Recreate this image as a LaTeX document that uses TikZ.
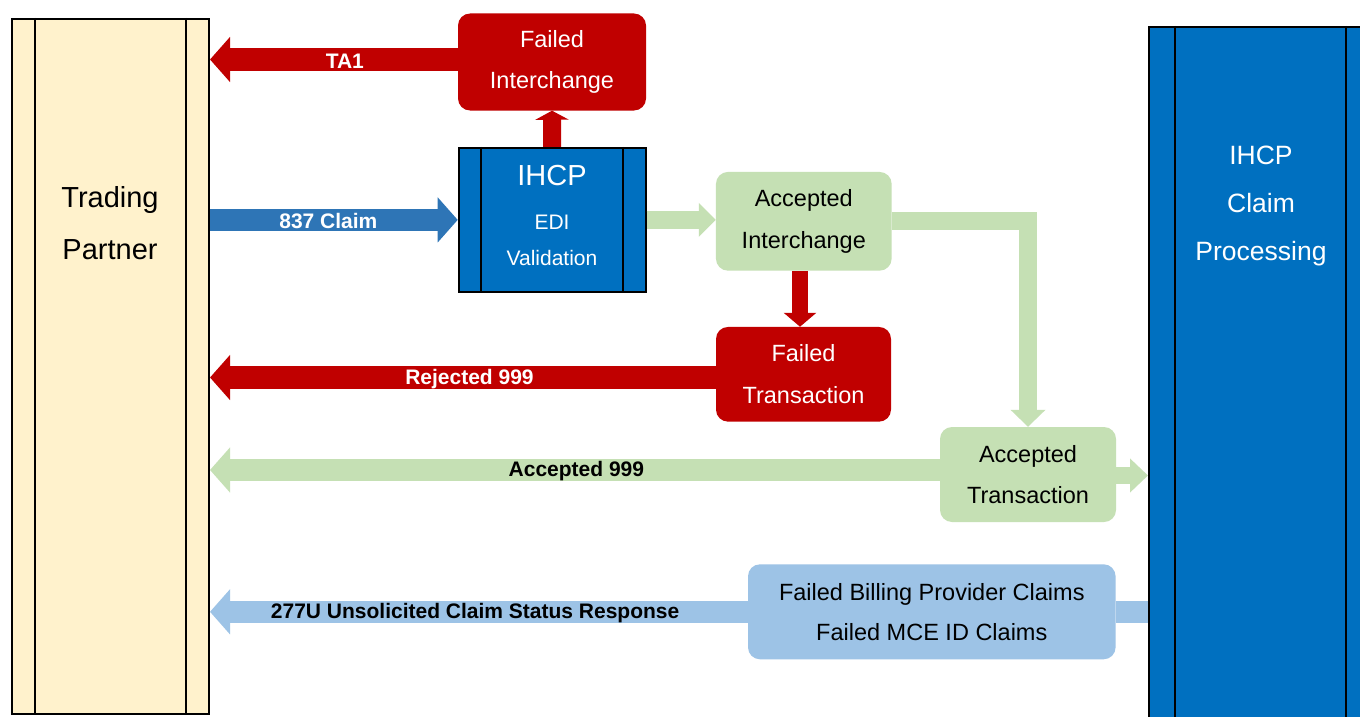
\documentclass[tikz,border=0pt]{standalone}
\usepackage{fontspec}
\setmainfont{Liberation Sans}
\usetikzlibrary{arrows.meta}
\definecolor{cred}{HTML}{C00000}
\definecolor{cgreen}{HTML}{C5E0B4}
\definecolor{cblue}{HTML}{0070C0}
\definecolor{carrow}{HTML}{2E75B6}
\definecolor{clight}{HTML}{9DC3E6}
\definecolor{tpfill}{HTML}{FFF2CC}
\tikzset{
  rbox/.style={rounded corners=12pt, align=center, inner sep=0pt,
    font=\fontsize{23.5}{41.5}\selectfont},
  redbox/.style={rbox, fill=cred, text=white},
  greenbox/.style={rbox, fill=cgreen, text=black},
  lightbox/.style={rbox, fill=clight, text=black, font=\fontsize{23.5}{40}\selectfont},
  column/.style={draw=black, line width=2pt, inner sep=0pt},
  divider/.style={draw=black, line width=1.6pt},
  fat/.style={line width=22.5pt, -{Triangle[length=20pt,width=44pt]}},
  lab/.style={font=\bfseries\fontsize{21}{21}\selectfont, inner sep=0pt, yshift=-1.5pt},
}
\begin{document}
\begin{tikzpicture}[x=1pt,y=-1pt]
\path[use as bounding box, clip] (0,0) rectangle (1360,717);
\fill[white] (0,0) rectangle (1360,717);

% Trading partner column
\node[column, fill=tpfill, minimum width=197pt, minimum height=695pt] (tp) at (110.5,366.3) {};
\draw[divider] ([xshift=24pt]tp.north west) -- ([xshift=24pt]tp.south west);
\draw[divider] ([xshift=-24pt]tp.north east) -- ([xshift=-24pt]tp.south east);
\node[align=center, font=\fontsize{29}{52}\selectfont] (tptext) at (110,223) {Trading\\Partner};

% Claim processing column
\node[column, fill=cblue, minimum width=223pt, minimum height=703pt] (cp) at (1260.5,378.5) {};
\draw[divider] ([xshift=27pt]cp.north west) -- ([xshift=27pt]cp.south west);
\draw[divider] ([xshift=-27pt]cp.north east) -- ([xshift=-27pt]cp.south east);
\node[align=center, text=white, font=\fontsize{26.5}{48}\selectfont] (cptext) at (1261,206) {IHCP\\Claim\\Processing};

% EDI validation box
\node[column, fill=cblue, minimum width=187pt, minimum height=144pt] (edi) at (552.2,219.9) {};
\draw[divider] ([xshift=23.5pt]edi.north west) -- ([xshift=23.5pt]edi.south west);
\draw[divider] ([xshift=-23.5pt]edi.north east) -- ([xshift=-23.5pt]edi.south east);
\node[text=white, font=\fontsize{29}{29}\selectfont] (editop) at (552,176) {IHCP};
\node[align=center, text=white, font=\fontsize{21}{36}\selectfont] (edisub) at (552,240) {EDI\\Validation};

% Rounded boxes
\node[redbox, minimum width=188pt, minimum height=97pt] (fi) at (552,62) {Failed\\Interchange};
\node[greenbox, minimum width=175.7pt, minimum height=98.7pt] (ai) at (803.8,221.3) {Accepted\\Interchange};
\node[redbox, minimum width=175pt, minimum height=94.7pt] (ft) at (803.5,374.3) {Failed\\Transaction};
\node[greenbox, minimum width=176pt, minimum height=95pt] (at) at (1028,474.5) {Accepted\\Transaction};
\node[lightbox, minimum width=367.6pt, minimum height=95pt] (fb) at (931.8,611.8) {Failed Billing Provider Claims\\Failed MCE ID Claims};

% Arrows
\draw[fat, cred] ([yshift=2.5pt]fi.west) -- ([yshift=2.5pt]fi.west -| tp.east)
  node[lab, text=white, pos=0.456] {TA1};
\draw[fat, carrow] (tp.east |- edi.west) -- (edi.west)
  node[lab, text=white, pos=0.478] {837 Claim};
\draw[cred, line width=18pt, -{Triangle[length=9pt,width=33pt]}] (edi.north) -- (fi.south);
\draw[cgreen, line width=17.5pt, -{Triangle[length=17pt,width=33pt]}] (edi.east) -- (edi.east -| ai.west);
\draw[cred, line width=16.6pt, -{Triangle[length=14pt,width=32pt]}] ([xshift=-3.8pt]ai.south) -- ([xshift=-3.8pt]ai.south |- ft.north);
\draw[cgreen, line width=18pt, -{Triangle[length=17pt,width=34pt]}] (ai.east) -| (at.north);
\draw[fat, cred] ([yshift=-3.2pt]ft.west) -- ([yshift=-3.2pt]ft.west -| tp.east)
  node[lab, text=white, pos=0.487] {Rejected 999};
\draw[fat, cgreen] ([yshift=4.5pt]at.west) -- ([yshift=4.5pt]at.west -| tp.east)
  node[lab, text=black, pos=0.498] {Accepted 999};
\draw[cgreen, line width=17pt, -{Triangle[length=18pt,width=33pt]}] ([yshift=-1pt]at.east) -- ([yshift=-1pt]at.east -| cp.west);
\draw[clight, line width=22.5pt] (fb.east) -- (fb.east -| cp.west);
\draw[fat, clight] (fb.west) -- (fb.west -| tp.east)
  node[lab, text=black, pos=0.507] {277U Unsolicited Claim Status Response};
\end{tikzpicture}
\end{document}
